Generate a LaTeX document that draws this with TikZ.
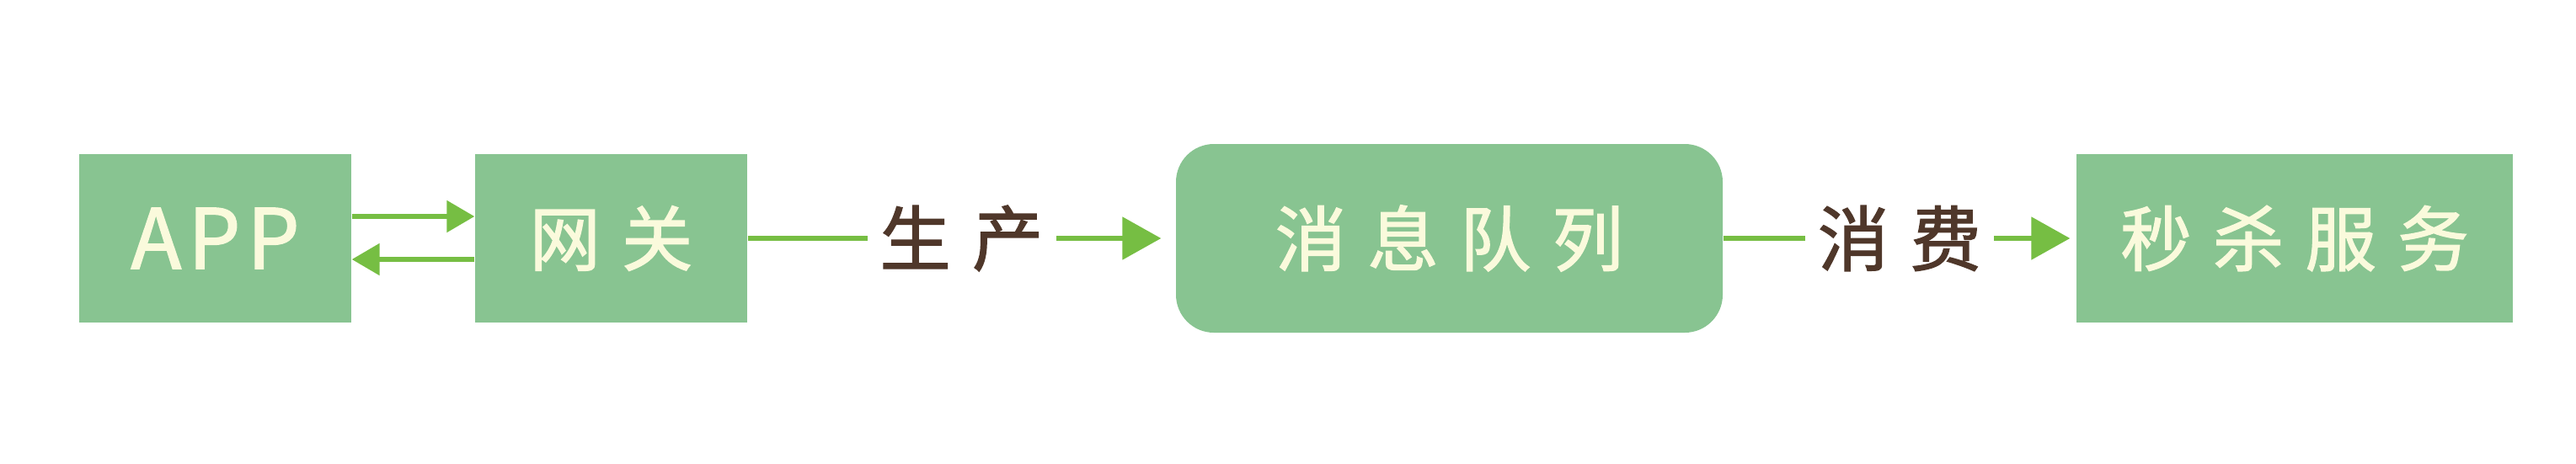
\documentclass[tikz,border=0pt]{standalone}
\usepackage{fontspec}
\usepackage{tikz}
\usetikzlibrary{arrows.meta}

\newfontfamily\handfont[LetterSpace=30,FakeBold=1.6]{Noto Sans CJK SC}
\newfontfamily\latinfont[LetterSpace=8,FakeBold=1.6]{Noto Sans CJK SC}

\definecolor{boxgreen}{HTML}{88C491}
\definecolor{arrowgreen}{HTML}{76BE43}
\definecolor{cream}{HTML}{FAFADC}
\definecolor{labelbrown}{HTML}{4F372A}

\begin{document}
\begin{tikzpicture}[
    >={Triangle[length=0.46cm,width=0.5cm]},
    service/.style={
      rectangle,
      fill=boxgreen,
      minimum width=3.23cm,
      minimum height=2cm,
      text=cream,
      font=\handfont\fontsize{24pt}{28pt}\selectfont
    },
    queue/.style={
      service,
      rounded corners=0.45cm,
      minimum width=6.49cm,
      minimum height=2.24cm
    },
    flow/.style={
      draw=arrowgreen,
      line width=0.055cm
    },
    small-tip/.style={
      -{Triangle[length=0.33cm,width=0.37cm]}
    },
    flow-label/.style={
      fill=white,
      text=labelbrown,
      inner xsep=0.15cm,
      font=\handfont\fontsize{24pt}{28pt}\selectfont
    },
  ]

  \useasboundingbox (0,0) rectangle (30.58,5.5);

  %%%%%%%%%%%%%%%%%%%%%%%%%%%%%%%%%%%%%%%%%%%%%%
  %%%%%%%%%%%%%%%% ACTUAL NODES %%%%%%%%%%%%%%%%%%%
  %%%%%%%%%%%%%%%%%%%%%%%%%%%%%%%%%%%%%%%%%%%%%%
    \node[service, font=\latinfont\fontsize{28pt}{32pt}\selectfont] (APP) at (2.555,2.67) {APP};
    \node[service] (gateway) at (7.255,2.67) {网关};

    \node[queue] (MQ) at (17.205,2.67) {消息队列};

    \node[service, minimum width=5.18cm] (seckill) at (27.24,2.67) {秒杀服务};

  %%%%%%%%%%%%%%%%%%%%%%%%%%%%%%%%%%%%%%%%%%%%%%
  %%%%%%%%%%%%%%%%%% PATHS %%%%%%%%%%%%%%%%%%%%%%%
  %%%%%%%%%%%%%%%%%%%%%%%%%%%%%%%%%%%%%%%%%%%%%%

    \path [flow, small-tip, fill=arrowgreen] ([yshift=0.26cm]APP.east) -- ([yshift=0.26cm]gateway.west);
    \path [flow, small-tip, fill=arrowgreen] ([yshift=-0.25cm]gateway.west) -- ([yshift=-0.25cm]APP.east);

    \path [flow, ->, shorten >=0.17cm] (gateway) -- (MQ) node[flow-label, pos=0.5] {生产};

    \path [flow, ->, shorten >=0.07cm] (MQ) -- (seckill) node[flow-label, pos=0.5] {消费};

  \end{tikzpicture}
\end{document}
